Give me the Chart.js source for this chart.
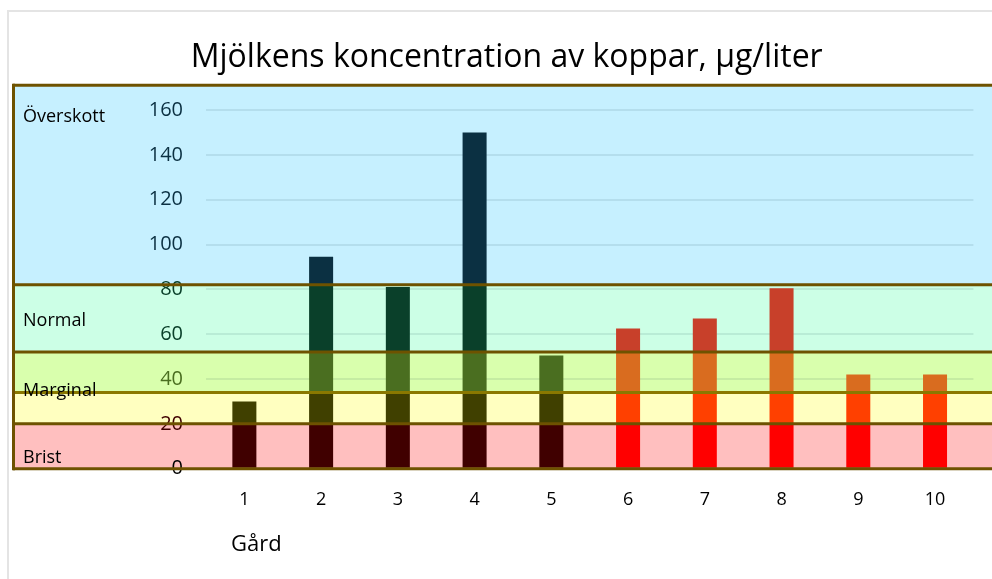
<!DOCTYPE html>
<html>
<head>
<meta charset="utf-8">
<script src="https://cdn.jsdelivr.net/npm/chart.js@4"></script>
<style>
  html, body { margin: 0; padding: 0; background: #fff; }
  #wrap { width: 992px; height: 579px; position: relative; }
</style>
</head>
<body>
<div id="wrap"><canvas id="chart"></canvas></div>
<script>
// ── data ──
const farms = ["1", "2", "3", "4", "5", "6", "7", "8", "9", "10"];
const copper = [30, 94.5, 81, 150, 50.5, 62.5, 67, 80.5, 42, 42];
const darkFarms = 5; // first five bars use the dark palette

// band edges (µg/liter), bottom to top
const bandEdges = [0, 20, 34, 52, 82, 171];
const bandNames = ["Brist", "", "Marginal", "Normal", "Överskott"];
const bandLabelAt = [5, null, 34.5, 66, 157];
const bandFills = ["#ffbfbf", "#ffffc0", "#d9ffad", "#ccffe6", "#c6f0ff"];
const darkBarColors = ["#400000", "#404000", "#4a6e20", "#0a402a", "#0b3042"];
const redBarColors = ["#ff0000", "#ff4000", "#d96c1f", "#c8402a", "#c8402a"];
const yTicks = [0, 20, 40, 60, 80, 100, 120, 140, 160];

const FONT = "'Open Sans', sans-serif";

// one stacked dataset per band, each bar split at the band edges
const datasets = bandFills.map((_, i) => {
  const lo = bandEdges[i], hi = bandEdges[i + 1];
  return {
    label: bandNames[i] || "band" + i,
    data: copper.map((v) => Math.max(0, Math.min(v, hi) - lo)),
    backgroundColor: copper.map((_, j) =>
      j < darkFarms ? darkBarColors[i] : redBarColors[i],
    ),
    borderWidth: 0,
    categoryPercentage: 1,
    barPercentage: 0.313,
  };
});

function bandOf(v) {
  for (let i = 0; i < bandFills.length; i++)
    if (v > bandEdges[i] && v <= bandEdges[i + 1]) return i;
  return -1;
}

// ══════════════════════════════════════════
// BANDS PLUGIN
// ══════════════════════════════════════════
const BAND_LEFT = 13;
const bandsPlugin = {
  id: "bands",
  beforeDraw(chart) {
    const { ctx, scales } = chart;
    const y = scales.y;
    ctx.save();
    // outer frame
    ctx.strokeStyle = "#e4e4e4";
    ctx.lineWidth = 2;
    ctx.beginPath();
    ctx.moveTo(8, 600);
    ctx.lineTo(8, 11);
    ctx.lineTo(1000, 11);
    ctx.stroke();
    bandFills.forEach((c, i) => {
      const top = y.getPixelForValue(bandEdges[i + 1]);
      const bot = y.getPixelForValue(bandEdges[i]);
      ctx.fillStyle = c;
      ctx.fillRect(BAND_LEFT, top, chart.width - BAND_LEFT, bot - top);
    });
    ctx.restore();
  },
  afterDatasetsDraw(chart) {
    const { ctx, scales } = chart;
    const y = scales.y;
    ctx.save();
    ctx.lineWidth = 3;
    bandEdges.forEach((e) => {
      const py = y.getPixelForValue(e);
      ctx.strokeStyle = e === 34 ? "#8a7800" : "#6e5200";
      ctx.beginPath();
      ctx.moveTo(BAND_LEFT, py);
      ctx.lineTo(chart.width, py);
      ctx.stroke();
    });
    ctx.strokeStyle = "#6e5200";
    ctx.beginPath();
    ctx.moveTo(BAND_LEFT + 0.5, y.getPixelForValue(bandEdges[0]) + 1.5);
    ctx.lineTo(BAND_LEFT + 0.5, y.getPixelForValue(bandEdges[bandEdges.length - 1]) - 1.5);
    ctx.stroke();

    // band names
    ctx.fillStyle = "#000";
    ctx.font = "18px " + FONT;
    ctx.textBaseline = "middle";
    ctx.textAlign = "left";
    bandNames.forEach((n, i) => {
      if (!n) return;
      ctx.fillText(n, 23, y.getPixelForValue(bandLabelAt[i]));
    });

    // x axis title
    ctx.font = "22px " + FONT;
    ctx.fillText("Gård", 231, 545);
    ctx.restore();
  },
};

new Chart(document.getElementById("chart"), {
  type: "bar",
  data: { labels: farms, datasets },
  options: {
    responsive: true,
    maintainAspectRatio: false,
    animation: false,
    layout: { padding: { left: 40, right: 18.6, top: 0, bottom: 48.7 } },
    plugins: {
      legend: { display: false },
      tooltip: { enabled: false },
      title: {
        display: true,
        text: "Mjölkens koncentration av koppar, µg/liter",
        color: "#000",
        font: { family: FONT, size: 32, weight: "normal" },
        padding: { top: 39, bottom: 32.6 },
      },
    },
    scales: {
      x: {
        stacked: true,
        grid: { display: false, drawTicks: false },
        border: { display: false },
        ticks: { color: "#000", padding: 20, font: { family: FONT, size: 18 } },
      },
      y: {
        stacked: true,
        min: 0,
        max: 160,
        afterFit: (s) => { s.width = 166; },
        afterBuildTicks: (s) => { s.ticks = yTicks.map((v) => ({ value: v })); },
        grid: { color: "rgba(0,40,60,0.09)", lineWidth: 2, drawTicks: false },
        border: { display: false },
        ticks: {
          padding: 23,
          font: { family: FONT, size: 20 },
          color: (c) => {
            const b = bandOf(c.tick.value);
            return b < 0 ? "#000" : darkBarColors[b];
          },
        },
      },
    },
  },
  plugins: [bandsPlugin],
});
</script>
</body>
</html>
